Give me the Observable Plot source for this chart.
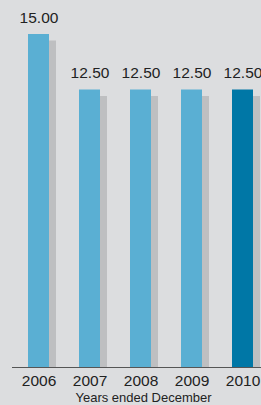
<!DOCTYPE html>
<html>
<head>
<meta charset="utf-8">
<script src="https://cdn.jsdelivr.net/npm/d3@7"></script>
<script src="https://cdn.jsdelivr.net/npm/@observablehq/plot@0.6"></script>
<style>
  html, body { margin: 0; padding: 0; background: #dcdddf; }
  #chart svg { display: block; }
</style>
</head>
<body>
<div id="chart"></div>
<script>
const years = ["2006", "2007", "2008", "2009", "2010"];
const values = [15.00, 12.50, 12.50, 12.50, 12.50];
const highlightYear = "2010";
const axisLabel = "Years ended December";

const data = years.map((year, i) => ({year, value: values[i]}));

const font = "'Liberation Sans', Arial, Helvetica, sans-serif";

const chart = Plot.plot({
  width: 261,
  height: 405,
  marginTop: 34,
  marginBottom: 38,
  marginLeft: 27,
  marginRight: 8,
  style: {background: "#dcdddf", fontFamily: font, color: "#222"},
  x: {domain: years, paddingInner: 0.59, paddingOuter: 0, label: null},
  y: {domain: [0, 15], nice: false, axis: null},
  marks: [
    Plot.barY(data, {x: "year", y: "value", fill: "#bebfc1", dx: 7, insetTop: 6.5}),
    Plot.barY(data, {x: "year", y: "value", fill: d => d.year === highlightYear ? "#0077a6" : "#5aafd3"}),
    Plot.text(data, {x: "year", y: "value", text: d => d.value.toFixed(2), dy: -12, lineAnchor: "bottom", fontSize: 15.5, fill: "#222"}),
    Plot.ruleY([0], {stroke: "#555", strokeWidth: 1, insetLeft: -15, insetRight: -8}),
    Plot.axisX({tickSize: 0, tickPadding: 7, fontSize: 15.5, label: null, fill: "#222"}),
    Plot.text([axisLabel], {frameAnchor: "bottom", dy: 34, dx: 3, lineAnchor: "bottom", fontSize: 13, fill: "#222"})
  ]
});
document.getElementById("chart").appendChild(chart);
</script>
</body>
</html>
